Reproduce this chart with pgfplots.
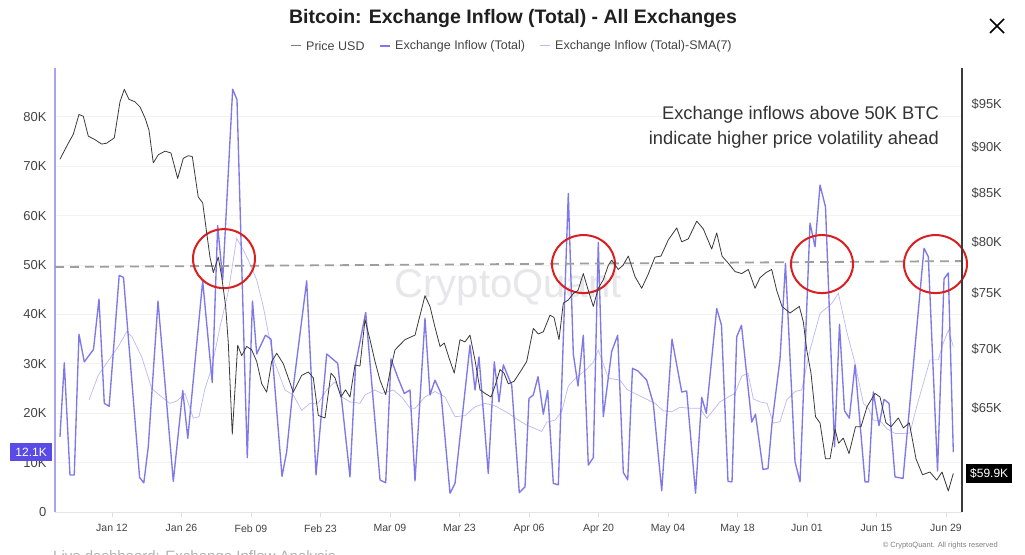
\documentclass[border=0pt]{standalone}
\usepackage{pgfplots}
\pgfplotsset{compat=1.18}
\usepackage{fontspec}
\setmainfont{Liberation Sans}
\definecolor{inflowc}{HTML}{7F78E8}
\definecolor{smac}{HTML}{BDB8F4}
\definecolor{pricec}{HTML}{3A3A3A}
\definecolor{leftaxc}{HTML}{A8A2F2}
\definecolor{gridc}{HTML}{F2F2F2}
\definecolor{dashc}{HTML}{9E9E9E}
\definecolor{redc}{HTML}{D91F1F}
\definecolor{tagc}{HTML}{5A4AE6}
\definecolor{labc}{HTML}{444444}
\definecolor{wmc}{HTML}{E6E6EB}
\begin{document}
\begin{tikzpicture}[x=1pt,y=1pt]
\useasboundingbox (0,0) rectangle (1025,554);
\fill[white] (0,0) rectangle (1025,554);
% watermark
\node[text=wmc, font=\fontsize{40}{40}\selectfont] at (508,266) {CryptoQuant};
% title
\node[font=\bfseries\fontsize{19.5}{19.5}\selectfont, text=black!88] at (513,535) {Bitcoin: Exchange Inflow (Total) - All Exchanges};
% legend
\draw[gray, line width=1pt] (291,508) -- (301,508);
\node[anchor=west, font=\fontsize{12.5}{12.5}\selectfont, text=labc, inner sep=0pt] at (306,508) {Price USD};
\draw[inflowc, line width=1.2pt] (380,508) -- (390,508);
\node[anchor=west, font=\fontsize{12.5}{12.5}\selectfont, text=labc, inner sep=0pt] at (395,508) {Exchange Inflow (Total)};
\draw[smac, line width=1pt] (540,508) -- (550,508);
\node[anchor=west, font=\fontsize{12.5}{12.5}\selectfont, text=labc, inner sep=0pt] at (555,508) {Exchange Inflow (Total)-SMA(7)};
% close
\draw[line width=1.5pt] (990,521) -- (1004,535) (990,535) -- (1004,521);
% footer
\node[anchor=east, inner sep=0pt, font=\fontsize{7.5}{7.5}\selectfont, text=gray] at (998,8) {\textcopyright\ CryptoQuant. All rights reserved};
\node[anchor=base west, inner sep=0pt, font=\fontsize{15}{15}\selectfont, text=gray!60] at (53,-7) {Live dashboard: Exchange Inflow Analysis};

\begin{axis}[
  at={(55pt,42pt)}, anchor=south west, scale only axis,
  width=907pt, height=444pt,
  xmin=-0.48, xmax=182.23, ymin=0, ymax=89.9,
  axis line style={draw=none},
  ytick={0,10,...,80}, yticklabels={0,10K,20K,30K,40K,50K,60K,70K,80K},
  xtick={11,25,...,179},
  xticklabels={Jan 12,Jan 26,Feb 09,Feb 23,Mar 09,Mar 23,Apr 06,Apr 20,May 04,May 18,Jun 01,Jun 15,Jun 29},
  ymajorgrids, grid style={gridc, line width=0.8pt},
  ytick style={draw=none}, xtick style={draw=gray!25, line width=0.6pt},
  tick align=outside, major tick length=5pt,
  xtick pos=bottom, ytick pos=left,
  yticklabel style={font=\fontsize{13}{13}\selectfont, text=labc},
  xticklabel style={font=\fontsize{10.5}{10.5}\selectfont, text=labc, yshift=-4pt},
  /pgf/number format/assume math mode=true,
  clip=false,
]
\draw[leftaxc, line width=2pt] (rel axis cs:0,0) -- (rel axis cs:0,1);
\draw[gray!20, line width=0.6pt] (rel axis cs:0,0) -- (rel axis cs:1,0);
\addplot[smac, line width=0.7pt] coordinates {(6.37,22.7) (8.24,27.7) (10.60,31.1) (12.27,33.5) (13.96,36.5) (15.03,35.5) (16.98,31.4) (19.00,25) (21.01,23.3) (22.68,22) (24.09,22.5) (25.70,24) (27.38,19) (28.53,19.3) (29.73,25) (31.08,29.1) (32.76,37.5) (34.43,44.6) (36.12,55.4) (37.13,53.7) (38.46,51) (40.15,47) (41.48,41.6) (42.49,36.2) (43.83,30.1) (45.85,24.7) (47.52,23.7) (49.21,20.6) (50.89,22) (52.50,22) (54.25,24.7) (55.93,26.4) (57.27,23.3) (58.94,22.3) (60.96,22) (61.97,23.7) (63.98,24.7) (65.33,24) (67.67,24.7) (69.36,23.3) (71.03,21) (72.04,21) (74.05,23.3) (76.07,24.4) (78.08,23.3) (80.10,19.3) (82.11,19.5) (84.13,21.3) (86.14,22) (88.15,21.5) (90.83,20) (92.85,18.6) (94.54,17.6) (96.21,16.9) (97.56,16.3) (98.57,18.2) (100.24,18.6) (101.59,20.3) (102.92,25.5) (104.48,27.2) (106.49,28.8) (107.96,30.3) (108.96,32.8) (109.97,30) (110.98,27.1) (113.33,26.7) (114.75,24.8) (116.76,23.8) (118.98,22.7) (120.39,22) (122.06,20.5) (123.75,20.3) (125.42,21.2) (127.44,21) (129.46,21) (130.80,19) (132.13,20.6) (133.48,22.3) (135.15,23.3) (136.50,24) (137.85,27.5) (139.12,28.1) (140.19,22.9) (141.54,22.3) (142.95,22) (144.20,18) (145.57,18.3) (146.94,22.7) (148.59,24.4) (149.93,24.7) (151.61,32.8) (153.63,40.2) (155.98,42.2) (157.32,44.3) (159.01,36.5) (160.68,30.1) (162.36,22) (163.37,21) (164.36,18.6) (165.71,18.5) (167.06,16.9) (168.73,15.9) (170.40,15.9) (171.75,16) (173.09,21.3) (175.78,30.8) (177.45,30.8) (178.46,34.2) (179.47,36.8) (180.48,33.5)};
\addplot[inflowc, line width=1.35pt, line join=round] coordinates {(0.52,15.2) (1.39,30.2) (2.54,7.5) (3.40,7.5) (4.35,36) (5.42,30.4) (7.27,32.9) (8.38,43.1) (9.45,22) (10.43,21.4) (12.45,47.9) (13.32,47.5) (16.56,7) (17.41,5.9) (18.31,13.2) (20.27,42.7) (23.35,6.2) (25.26,24.6) (26.27,14.9) (29.27,46.8) (31.20,26.2) (32.29,58) (33.30,47) (35.31,85.6) (36.18,83.5) (38.25,11) (39.30,42.7) (40.15,32) (41.92,35.8) (43.03,35) (45.25,7.2) (46.19,12.2) (47.36,24) (50.22,46.8) (52.10,7.5) (54.25,32) (56.47,30.1) (58.94,7.1) (60.09,30) (62.11,40.4) (64.99,6.5) (66.14,5.9) (67.20,31) (68.67,27) (69.88,24) (71.03,24.7) (72.04,6.3) (74.05,39.2) (75.06,23.7) (76.07,26.7) (77.28,24) (79.09,3.8) (80.10,5.8) (83.12,33.8) (84.13,24.7) (84.93,31.4) (86.80,7.8) (88.01,30.4) (88.96,22.3) (89.83,29.8) (91.52,25.7) (93.05,3.9) (94.20,5.1) (95.00,23) (95.87,23.7) (96.82,27.4) (97.89,19.8) (98.77,24.6) (99.90,5.8) (100.91,5.5) (102.92,64.5) (103.93,32) (104.88,25.5) (105.94,35.8) (106.95,9.5) (107.96,11) (108.96,54.6) (109.97,19.3) (111.66,32.5) (112.87,35.8) (114.00,8) (114.89,6.5) (115.85,29.1) (117.02,28.5) (118.71,26.7) (120.04,22) (121.74,4.3) (123.81,35) (125.77,24.3) (126.77,24.5) (128.55,3.8) (129.80,23.2) (130.72,20) (132.82,41.2) (133.78,37.8) (135.09,6.2) (135.90,6.1) (136.85,35.5) (137.81,37.8) (139.87,18.2) (140.63,19.8) (142.14,8.6) (143.15,8.8) (143.96,18) (145.57,31) (146.67,50.3) (148.59,10.2) (149.60,6.1) (151.61,58.5) (152.62,53.7) (153.63,66.2) (154.73,61.8) (156.55,13.2) (157.55,38) (158.56,20.5) (159.53,19) (160.68,29.8) (162.69,6.1) (163.40,6.1) (164.36,24.3) (165.51,17.5) (166.52,22.8) (167.53,22) (168.73,7.1) (170.35,6.8) (174.58,53.4) (175.44,51.7) (177.30,8.3) (178.61,47.2) (179.47,48.4) (180.48,12.1)};
\draw[dashc, line width=1.8pt, dash pattern=on 9pt off 6pt] (axis cs:-0.48,49.6) -- (axis cs:182.23,50.8);
\draw[redc, line width=2pt] (axis cs:33.56,51.3) ellipse [x radius=31pt, y radius=29.5pt];
\draw[redc, line width=2pt] (axis cs:105.98,50.2) ellipse [x radius=31.5pt, y radius=29pt];
\draw[redc, line width=2pt] (axis cs:154.03,50.2) ellipse [x radius=31pt, y radius=29pt];
\draw[redc, line width=2pt] (axis cs:176.89,50.2) ellipse [x radius=31.5pt, y radius=29pt];
\node[fill=tagc, text=white, anchor=east, font=\fontsize{12}{12}\selectfont, inner xsep=5pt, minimum height=18pt] at ([xshift=-3pt]axis cs:-0.48,12.1) {12.1K};
\end{axis}

\begin{axis}[
  at={(55pt,42pt)}, anchor=south west, scale only axis,
  width=907pt, height=444pt,
  xmin=-0.48, xmax=182.23, ymode=log, ymin=57.08, ymax=99.42,
  axis line style={draw=none}, hide x axis,
  ytick={65,70,75,80,85,90,95},
  yticklabels={\$65K,\$70K,\$75K,\$80K,\$85K,\$90K,\$95K},
  ytick pos=right, yticklabel pos=right,
  ytick style={draw=none}, yminorticks=false,
  yticklabel style={font=\fontsize{13}{13}\selectfont, text=labc, xshift=6pt},
  clip=false,
]
\draw[pricec, line width=1.2pt] (rel axis cs:1,0) -- (rel axis cs:1,1);
\addplot[pricec, line width=0.8pt, line join=round] coordinates {(0.52,88.7) (2.20,90.5) (3.20,91.5) (4.35,93.8) (5.22,93.6) (6.22,91.3) (7.57,90.9) (8.92,90.4) (9.93,90.5) (11.46,91.1) (12.61,95.3) (13.48,96.8) (14.42,95.6) (15.63,95.3) (16.64,94.7) (17.65,93.4) (18.45,92) (19.32,88.3) (20.33,89.2) (21.68,89.6) (22.88,89.4) (24.23,86.6) (25.36,88.8) (26.37,89.1) (27.18,89) (28.38,84.6) (29.27,84) (30.08,80.9) (30.74,78.5) (31.41,77) (32.41,78.5) (33.10,76.6) (33.90,73.8) (34.43,70.5) (35.23,62.9) (36.32,70.3) (37.13,69.4) (38.13,70.2) (39.14,69.9) (40.15,68.9) (41.16,67) (42.16,66.3) (43.17,68.9) (44.18,69.6) (45.51,68.7) (47.52,66.3) (49.21,67.7) (50.54,68) (51.55,67.5) (52.56,64.4) (53.91,64.2) (55.12,67.9) (55.93,67.5) (57.13,65.9) (58.04,66.5) (58.94,65.9) (59.95,68.6) (60.96,68.5) (61.97,72.6) (62.97,70.8) (63.98,68.9) (64.99,67.3) (66.14,66.1) (67.00,68) (68.01,69.9) (70.02,70.8) (72.04,71.2) (74.05,74.8) (75.06,73.8) (76.07,71.9) (77.08,70.2) (77.94,70.5) (78.89,69.2) (79.95,67.9) (81.10,70.8) (82.11,70.6) (83.12,71.2) (84.13,69) (85.14,66.5) (86.14,66.2) (87.35,65.9) (88.15,66.8) (89.16,68.2) (89.97,67.9) (90.83,67) (91.98,67.2) (93.53,68.2) (94.54,68.9) (95.87,71.8) (96.88,71.3) (97.89,71.5) (99.23,73) (100.04,72.8) (101.05,70.8) (101.91,74.1) (102.92,74.4) (103.93,75) (104.88,75.3) (105.94,76.9) (106.95,75.3) (107.96,73.8) (108.96,75.5) (109.97,76.3) (110.98,77.7) (111.66,78.2) (112.99,77.3) (113.94,77.7) (115.01,78.6) (116.36,76.6) (117.71,75.5) (118.98,76.8) (120.39,78.5) (121.59,78.6) (123.07,80.2) (124.76,81.4) (125.77,80) (127.09,80.3) (128.79,82.1) (130.12,81.3) (131.81,79.3) (132.82,80.9) (133.89,78.6) (135.15,77.9) (136.50,77.1) (137.85,76.9) (139.18,77.3) (140.53,75.5) (141.54,76.5) (142.75,77) (143.89,77.3) (144.90,75.3) (145.97,73.8) (147.58,73.2) (149.46,73.8) (150.26,72.4) (150.95,69.9) (151.81,67.9) (152.72,64.3) (153.63,63.8) (154.73,61) (155.64,61) (156.66,63.3) (157.36,62.2) (158.32,62.6) (159.47,61.4) (160.78,63.5) (161.88,63.5) (163.09,65.1) (164.70,66.2) (165.71,65.9) (166.92,63.8) (167.93,63.5) (169.40,64.2) (170.41,63.4) (171.62,63.8) (172.96,61) (174.27,59.8) (175.78,60) (177.13,59.4) (178.20,60) (179.47,58.6) (180.48,59.9)};
\node[fill=black, text=white, anchor=west, font=\fontsize{12}{12}\selectfont, inner xsep=4pt, minimum height=19pt] at ([xshift=4pt]axis cs:182.23,59.9) {\$59.9K};
\end{axis}
% annotation on top
\node[anchor=east, inner sep=0pt, font=\fontsize{18.3}{18.3}\selectfont, text=black!80, fill=white, inner ysep=1pt] at (939,439) {Exchange inflows above 50K BTC};
\node[anchor=east, inner sep=0pt, font=\fontsize{18.3}{18.3}\selectfont, text=black!80] at (939,414) {indicate higher price volatility ahead};
\end{tikzpicture}
\end{document}
